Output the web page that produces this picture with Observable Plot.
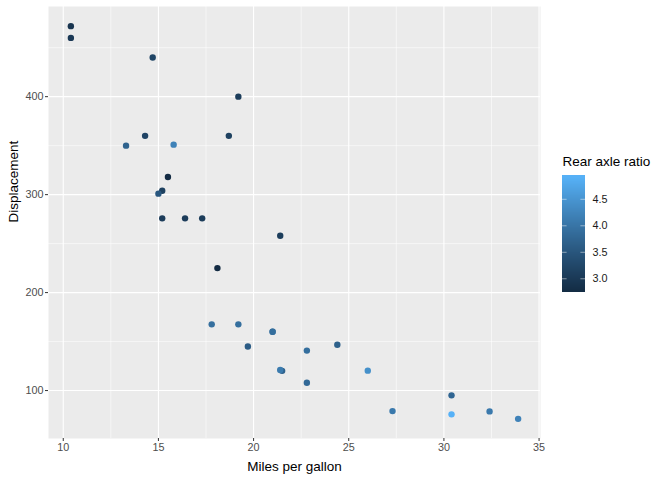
<!DOCTYPE html>
<html>
<head>
<meta charset="utf-8">
<script src="https://cdn.jsdelivr.net/npm/d3@7"></script>
<script src="https://cdn.jsdelivr.net/npm/@observablehq/plot@0.6"></script>
<style>
  html, body { margin: 0; padding: 0; background: white; }
  #chart { position: relative; width: 672px; height: 480px; font-family: "Liberation Sans", Arial, sans-serif; }
  #legend { position: absolute; left: 540px; top: 0; }
</style>
</head>
<body>
<div id="chart"><div id="main"></div><div id="legend"></div></div>
<script>
// mtcars: miles per gallon, displacement, rear axle ratio
const mpg  = [21.0, 21.0, 22.8, 21.4, 18.7, 18.1, 14.3, 24.4, 22.8, 19.2, 17.8, 16.4, 17.3, 15.2, 10.4, 10.4, 14.7, 32.4, 30.4, 33.9, 21.5, 15.5, 15.2, 13.3, 19.2, 27.3, 26.0, 30.4, 15.8, 19.7, 15.0, 21.4];
const disp = [160, 160, 108, 258, 360, 225, 360, 146.7, 140.8, 167.6, 167.6, 275.8, 275.8, 275.8, 472, 460, 440, 78.7, 75.7, 71.1, 120.1, 318, 304, 350, 400, 79.0, 120.3, 95.1, 351, 145, 301, 121];
const drat = [3.90, 3.90, 3.85, 3.08, 3.15, 2.76, 3.21, 3.69, 3.92, 3.92, 3.92, 3.07, 3.07, 3.07, 2.93, 3.00, 3.23, 4.08, 4.93, 4.22, 3.70, 2.76, 3.15, 3.73, 3.08, 4.08, 4.43, 3.77, 4.22, 3.62, 3.54, 4.11];

const xMajor = [10, 15, 20, 25, 30, 35];
const xMinor = [12.5, 17.5, 22.5, 27.5, 32.5];
const yMajor = [100, 200, 300, 400];
const yMinor = [150, 250, 350, 450];
const legendTicks = [3.0, 3.5, 4.0, 4.5];

const cars = mpg.map((m, i) => ({mpg: m, disp: disp[i], drat: drat[i]}));

const expand = (lo, hi) => { const p = (hi - lo) * 0.05; return [lo - p, hi + p]; };
const xDom = expand(d3.min(mpg), d3.max(mpg));
const yDom = expand(d3.min(disp), d3.max(disp));
const cDom = [d3.min(drat), d3.max(drat)];
const colorOpts = {type: "linear", domain: cDom, range: ["#132B43", "#56B1F7"], interpolate: d3.interpolateLab};

const grid = "#FFFFFF";
const main = Plot.plot({
  width: 672, height: 480,
  marginLeft: 48, marginRight: 132, marginTop: 6, marginBottom: 42,
  style: {fontFamily: "Liberation Sans, Arial, sans-serif", fontSize: "10.8px", background: "white"},
  x: {domain: xDom},
  y: {domain: yDom},
  color: colorOpts,
  marks: [
    Plot.frame({fill: "#EBEBEB", stroke: null}),
    Plot.ruleX(xMinor, {stroke: grid, strokeWidth: 0.55}),
    Plot.ruleY(yMinor, {stroke: grid, strokeWidth: 0.55}),
    Plot.ruleX(xMajor, {stroke: grid, strokeWidth: 1.1}),
    Plot.ruleY(yMajor, {stroke: grid, strokeWidth: 1.1}),
    Plot.axisX({ticks: xMajor, tickSize: 3, tickPadding: 2, stroke: "#333333", fill: "#4D4D4D", label: null, fontSize: 10.8}),
    Plot.axisY({ticks: yMajor, tickSize: 3, tickPadding: 2, stroke: "#333333", fill: "#4D4D4D", label: null, fontSize: 10.8}),
    Plot.dot(cars, {x: "mpg", y: "disp", fill: "drat", r: 3.2, stroke: null}),
    Plot.text(["Miles per gallon"], {frameAnchor: "bottom", dy: 28, text: d => d, fontSize: 13.5, fill: "black", lineAnchor: "middle"}),
    Plot.text(["Displacement"], {frameAnchor: "left", dx: -35, rotate: -90, text: d => d, fontSize: 13.5, fill: "black", lineAnchor: "middle"})
  ]
});
document.getElementById("main").appendChild(main);

// legend ramp: one slice per pixel across the colour domain
const nSlices = 115;
const slices = d3.range(nSlices).map(i => {
  const a = cDom[0] + (cDom[1] - cDom[0]) * i / nSlices;
  const b = cDom[0] + (cDom[1] - cDom[0]) * (i + 1) / nSlices;
  return {y1: a, y2: b, v: (a + b) / 2};
});
const legend = Plot.plot({
  width: 132, height: 480,
  marginLeft: 22, marginRight: 87, marginTop: 176, marginBottom: 189,
  style: {fontFamily: "Liberation Sans, Arial, sans-serif", fontSize: "10.8px", background: "transparent", overflow: "visible"},
  x: {domain: [0, 1], axis: null},
  y: {domain: cDom, axis: null},
  color: colorOpts,
  marks: [
    Plot.rect(slices, {x1: 0, x2: 1, y1: "y1", y2: "y2", fill: "v", insetTop: -0.6, insetBottom: -0.6, shapeRendering: "crispEdges"}),
    Plot.ruleY(legendTicks, {x1: 0, x2: 0.2, stroke: "white", strokeOpacity: 0.8, strokeWidth: 0.6}),
    Plot.ruleY(legendTicks, {x1: 0.8, x2: 1, stroke: "white", strokeOpacity: 0.8, strokeWidth: 0.6}),
    Plot.text(legendTicks, {x: 1, y: d => d, dx: 7, text: d => d.toFixed(1), textAnchor: "start", fill: "#1A1A1A", fontSize: 10.8}),
    Plot.text(["Rear axle ratio"], {frameAnchor: "top-left", dy: -15, text: d => d, textAnchor: "start", lineAnchor: "middle", fontSize: 13.5, fill: "black"})
  ]
});
document.getElementById("legend").appendChild(legend);
</script>
</body>
</html>
